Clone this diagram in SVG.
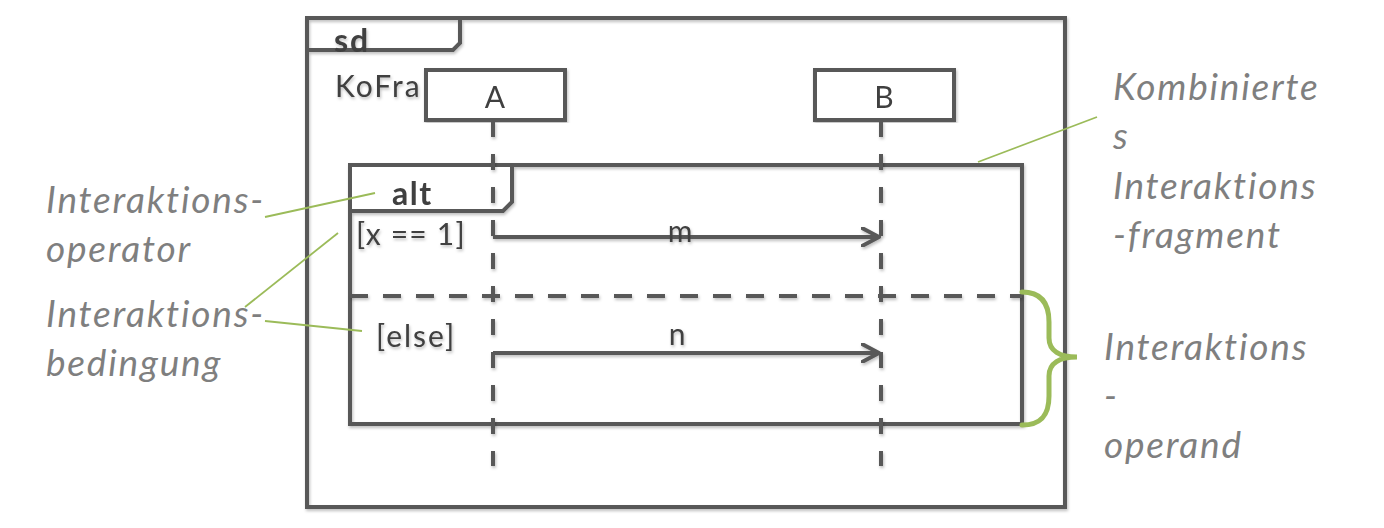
<svg xmlns="http://www.w3.org/2000/svg" width="1384" height="528" viewBox="0 0 1384 528">
  <defs>
    <filter id="shadow" x="-5%" y="-5%" width="110%" height="110%">
      <feDropShadow dx="1" dy="2" stdDeviation="1.5" flood-color="#000" flood-opacity="0.25"/>
    </filter>
    <marker id="open-arrow" viewBox="0 0 20 20" refX="18" refY="10" markerWidth="20" markerHeight="20" markerUnits="userSpaceOnUse" orient="auto">
      <path d="M1,1 L18,10 L1,19" fill="none" stroke="#595959" stroke-width="4" stroke-linecap="round" stroke-linejoin="round"/>
    </marker>
  </defs>
  <style>
    .frame { fill: none; stroke: #595959; stroke-width: 4; }
    .box { fill: #ffffff; stroke: #595959; stroke-width: 4; }
    .lifeline { stroke: #595959; stroke-width: 4; stroke-dasharray: 16 17; }
    .separator { stroke: #595959; stroke-width: 4; stroke-dasharray: 18 15; }
    .msg { fill: none; stroke: #595959; stroke-width: 4; }
    .note-line { fill: none; stroke: #9bbb59; stroke-width: 1.8; }
    .brace { fill: none; stroke: #9bbb59; stroke-width: 5; stroke-linecap: round; }
    .txt { font-family: Lato, "Open Sans", sans-serif; fill: #404040; }
    .bold { font-weight: bold; }
    .note { font-family: Lato, "Open Sans", sans-serif; font-style: italic; fill: #7f7f7f; font-size: 37px; letter-spacing: 1.8px; }
  </style>

  <rect width="1384" height="528" fill="#ffffff"/>

  <!-- sequence diagram frame with "sd" tab -->
  <g id="frame-sd" filter="url(#shadow)">
    <rect class="frame" x="307" y="18" width="758" height="489"/>
    <path class="frame" d="M307,50 H453 L460,43 V18"/>
    <text class="txt bold" x="334" y="52" font-size="32" letter-spacing="2">sd</text>
    <text class="txt" x="335" y="97" font-size="30" letter-spacing="2">KoFra</text>
  </g>

  <!-- combined fragment "alt" -->
  <g id="fragment-alt" filter="url(#shadow)">
    <rect class="frame" x="350" y="165" width="672" height="259"/>
    <path class="box" d="M350,211 H503 L512,202 V165 H350 Z"/>
    <text class="txt bold" x="392" y="205" font-size="32" letter-spacing="1.5">alt</text>
    <text class="txt" x="356" y="245" font-size="30" letter-spacing="1.2">[x == 1]</text>
    <text class="txt" x="376" y="347" font-size="30" letter-spacing="2">[else]</text>
  </g>

  <!-- lifeline heads -->
  <g id="lifeline-A" filter="url(#shadow)">
    <rect class="box" x="426" y="70" width="139" height="50"/>
    <text class="txt" x="495" y="108" font-size="30" text-anchor="middle">A</text>
  </g>
  <g id="lifeline-B" filter="url(#shadow)">
    <rect class="box" x="815" y="70" width="139" height="50"/>
    <text class="txt" x="884" y="108" font-size="30" text-anchor="middle">B</text>
  </g>

  <!-- lifelines, operand separator, messages -->
  <g id="connectors" filter="url(#shadow)">
    <line class="lifeline" x1="493" y1="121" x2="493" y2="466"/>
    <line class="lifeline" x1="881" y1="121" x2="881" y2="466"/>
    <line class="separator" x1="350" y1="296" x2="1022" y2="296"/>
    <line class="msg" x1="493" y1="237" x2="879" y2="237" marker-end="url(#open-arrow)"/>
    <line class="msg" x1="493" y1="353" x2="879" y2="353" marker-end="url(#open-arrow)"/>
    <text class="txt" x="680" y="242" font-size="30" text-anchor="middle">m</text>
    <text class="txt" x="677" y="345" font-size="30" text-anchor="middle">n</text>
  </g>

  <!-- annotation leader lines and operand brace -->
  <g id="annotations">
    <line class="note-line" x1="265" y1="217" x2="375" y2="193"/>
    <line class="note-line" x1="245" y1="307" x2="338" y2="233"/>
    <line class="note-line" x1="265" y1="321" x2="362" y2="331"/>
    <line class="note-line" x1="1097" y1="117" x2="978" y2="162"/>
    <path class="brace" d="M1022,292 C1042,292 1049,304 1049,322 L1049,338 C1049,351 1060,357 1077,357 C1060,357 1049,363 1049,376 L1049,396 C1049,414 1042,425 1022,425"/>
  </g>

  <g id="label-operator">
    <text class="note" x="46" y="213">Interaktions-</text>
    <text class="note" x="46" y="262">operator</text>
  </g>
  <g id="label-condition">
    <text class="note" x="46" y="327">Interaktions-</text>
    <text class="note" x="46" y="376">bedingung</text>
  </g>
  <g id="label-fragment">
    <text class="note" x="1113" y="100">Kombinierte</text>
    <text class="note" x="1113" y="149">s</text>
    <text class="note" x="1113" y="199">Interaktions</text>
    <text class="note" x="1113" y="248">-fragment</text>
  </g>
  <g id="label-operand">
    <text class="note" x="1104" y="360">Interaktions</text>
    <text class="note" x="1104" y="409">-</text>
    <text class="note" x="1104" y="458">operand</text>
  </g>
</svg>
